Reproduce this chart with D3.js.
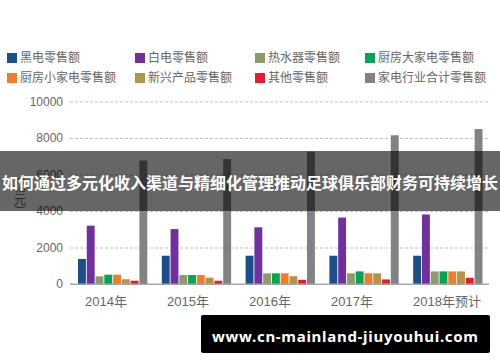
<!DOCTYPE html>
<html>
<head>
<meta charset="utf-8">
<script src="https://cdn.jsdelivr.net/npm/d3@7"></script>
<style>
  body { margin: 0; background: #fff; }
  svg { display: block; }
</style>
</head>
<body>
<svg id="chart"></svg>
<script>
// categories and series
const years = ["2014年", "2015年", "2016年", "2017年", "2018年预计"];
const seriesNames = ["黑电零售额", "白电零售额", "热水器零售额", "厨房大家电零售额",
                     "厨房小家电零售额", "新兴产品零售额", "其他零售额", "家电行业合计零售额"];
const seriesColors = ["#1b4f8c", "#7030a0", "#8d9a6a", "#00a651",
                      "#f47b2a", "#b3944a", "#e8192c", "#808285"];

const blackAppl   = [1370, 1550, 1550, 1550, 1550];
const whiteAppl   = [3195, 3010, 3105, 3640, 3810];
const waterHeater = [420, 490, 585, 585, 690];
const kitchenBig  = [510, 490, 585, 690, 690];
const kitchenSmall= [510, 490, 585, 590, 690];
const emerging    = [260, 345, 430, 585, 690];
const others      = [180, 180, 230, 250, 340];
const total       = [6760, 6850, 7250, 8150, 8490];

const yTicks = [0, 2000, 4000, 6000, 8000, 10000];
const title = "如何通过多元化收入渠道与精细化管理推动足球俱乐部财务可持续增长";
const watermark = "www.cn-mainland-jiuyouhui.com";

const allSeries = [blackAppl, whiteAppl, waterHeater, kitchenBig, kitchenSmall, emerging, others, total];

const W = 500, H = 362;
const plot = {left: 70, right: 489, top: 101.5, bottom: 284};
const FONT = "'Liberation Sans', 'Noto Sans CJK SC', sans-serif";
const CJK = "'Noto Sans CJK SC', sans-serif";

const svg = d3.select("#chart").attr("width", W).attr("height", H)
    .style("font-family", FONT);

const x = d3.scaleBand().domain(years).range([plot.left, plot.right]).paddingInner(0);
const xInner = d3.scaleBand().domain(d3.range(8))
    .range([8, x.bandwidth() - 6.5]).paddingInner(0.1);
const y = d3.scaleLinear().domain([0, 10000]).range([plot.bottom, plot.top]);

// legend, 4 columns x 2 rows
const legendCols = [7, 135, 255, 365];
const legendRows = [58, 78];
const legend = svg.append("g").selectAll("g")
    .data(seriesNames)
    .join("g")
    .attr("transform", (d, i) => `translate(${legendCols[i % 4]},${legendRows[Math.floor(i / 4)]})`);
legend.append("rect")
    .attr("x", 0).attr("y", -5).attr("width", 10).attr("height", 10)
    .attr("fill", (d, i) => seriesColors[i]);
legend.append("text")
    .attr("x", 13).attr("dy", "0.35em")
    .style("font-family", CJK).style("font-size", "12px")
    .attr("fill", "#666")
    .text(d => d);

// grid + y axis
const yAxis = svg.append("g")
    .attr("transform", `translate(${plot.left},0)`)
    .call(d3.axisLeft(y).tickValues(yTicks).tickFormat(d3.format("d"))
        .tickSize(-(plot.right - plot.left)).tickPadding(7));
yAxis.select(".domain").remove();
yAxis.selectAll(".tick line")
    .attr("stroke", d => d === 0 ? "#a6a6a6" : "#bfbfbf")
    .attr("stroke-dasharray", d => d === 0 ? null : "3,2");
yAxis.selectAll(".tick text")
    .attr("fill", "#666").style("font-size", "12px").style("font-family", FONT);

// y axis unit, vertical
svg.append("text")
    .attr("x", 20).attr("y", 193)
    .attr("writing-mode", "vertical-rl")
    .attr("text-anchor", "middle")
    .style("font-family", CJK).style("font-size", "12px")
    .attr("fill", "#666")
    .text("（亿元）");

// bars
const groups = svg.append("g").selectAll("g")
    .data(years)
    .join("g")
    .attr("transform", d => `translate(${x(d)},0)`);
groups.selectAll("rect")
    .data((d, yi) => allSeries.map((s, si) => ({si, v: s[yi]})))
    .join("rect")
    .attr("x", d => xInner(d.si))
    .attr("width", xInner.bandwidth())
    .attr("y", d => y(d.v))
    .attr("height", d => y(0) - y(d.v))
    .attr("fill", d => seriesColors[d.si]);

// redraw the zero line above the bars
svg.append("line")
    .attr("x1", plot.left).attr("x2", plot.right)
    .attr("y1", y(0)).attr("y2", y(0))
    .attr("stroke", "#a6a6a6");

// x labels
const xLab = d3.scalePoint().domain(years).range([85, 413]);
svg.append("g").selectAll("text")
    .data(years)
    .join("text")
    .attr("x", d => xLab(d))
    .attr("y", 306)
    .style("font-size", "13px")
    .attr("fill", "#666")
    .text(d => d);

// title band overlay
svg.append("rect")
    .attr("x", 0).attr("y", 151).attr("width", W).attr("height", 60)
    .attr("fill", "rgba(0,0,0,0.6)");
svg.append("text")
    .attr("x", W / 2).attr("y", 183)
    .attr("text-anchor", "middle").attr("dy", "0.35em")
    .style("font-family", CJK).style("font-size", "16px").style("font-weight", "bold")
    .attr("fill", "#fff")
    .text(title);

// watermark
svg.append("rect")
    .attr("x", 201).attr("y", 315).attr("width", 289).attr("height", 38)
    .attr("rx", 2)
    .attr("fill", "#000");
svg.append("text")
    .attr("x", 345).attr("y", 342)
    .attr("text-anchor", "middle")
    .attr("textLength", 266)
    .style("font-family", "'Noto Sans', sans-serif").style("font-size", "15px").style("font-weight", "bold")
    .attr("fill", "#fff")
    .text(watermark);
</script>
</body>
</html>
